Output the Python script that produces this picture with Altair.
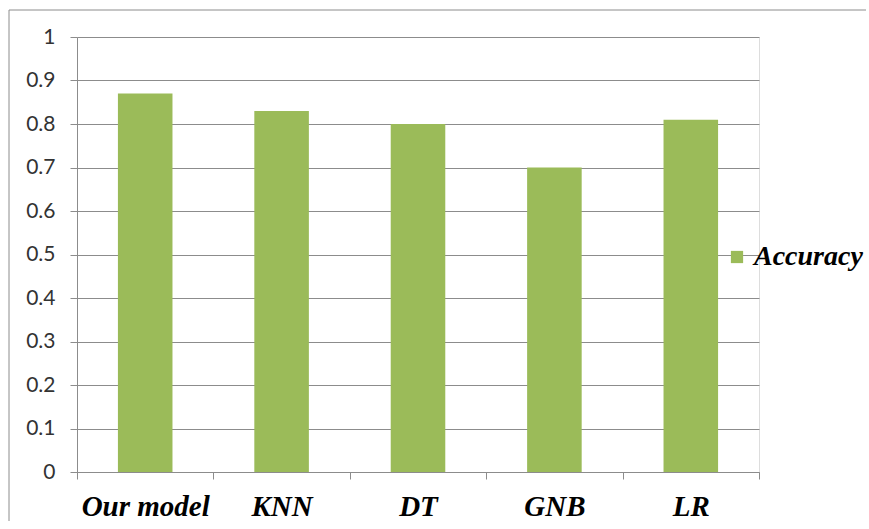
import altair as alt
import pandas as pd

# Accuracy of each classifier
models = ["Our model", "KNN", "DT", "GNB", "LR"]
accuracy = [0.87, 0.83, 0.80, 0.70, 0.81]
series_name = ["Accuracy"] * len(models)

df = pd.DataFrame({"model": models, "accuracy": accuracy, "series": series_name})

W, H = 682, 435
PAD = {"left": 77, "top": 37, "right": 108, "bottom": 50}
GRID = "#8c8c8c"
GREEN = "#9bbb59"

bars = alt.Chart(df).mark_bar(width=alt.RelativeBandSize(0.4), color=GREEN).encode(
    x=alt.X(
        "model:N",
        sort=models,
        scale=alt.Scale(paddingInner=0, paddingOuter=0),
        axis=alt.Axis(
            title=None,
            labelAngle=0,
            labelFont="Liberation Serif",
            labelFontSize=29,
            labelFontWeight="bold",
            labelFontStyle="italic",
            labelColor="#000000",
            labelPadding=13,
            tickBand="extent",
            tickSize=7,
            tickColor=GRID,
            domainColor=GRID,
            grid=False,
        ),
    ),
    y=alt.Y(
        "accuracy:Q",
        scale=alt.Scale(domain=[0, 1], nice=False),
        axis=alt.Axis(
            title=None,
            values=[i / 10 for i in range(11)],
            format="~g",
            labelFont="Lato",
            labelFontSize=21,
            labelColor="#333333",
            labelPadding=15,
            tickSize=7,
            tickColor=GRID,
            domainColor=GRID,
            gridColor=GRID,
            gridWidth=1,
        ),
    ),
    color=alt.Color(
        "series:N",
        scale=alt.Scale(range=[GREEN]),
        legend=alt.Legend(
            title=None,
            orient="none",
            legendX=646,
            legendY=206,
            symbolType="square",
            symbolSize=150,
            symbolStrokeWidth=0,
            labelFont="Liberation Serif",
            labelFontSize=28,
            labelFontWeight="bold",
            labelFontStyle="italic",
            labelColor="#000000",
            labelOffset=3,
        ),
    ),
)

# outer chart frame: left and top edges drawn once each as a single path
one_row = alt.Data(values=[{"frame": 1}])
frame_left = alt.Chart(one_row).mark_rule(color="#8c8c8c", strokeWidth=1).encode(
    x=alt.value(-68), y=alt.value(-27), y2=alt.value(H + PAD["bottom"] - 1)
)
frame_top = alt.Chart(one_row).mark_rule(color="#8c8c8c", strokeWidth=1).encode(
    x=alt.value(-68), x2=alt.value(W + PAD["right"] - 1), y=alt.value(-27), y2=alt.value(-27)
)

chart = (
    alt.layer(frame_left, frame_top, bars)
    .properties(width=W, height=H, padding=PAD, autosize=alt.AutoSizeParams(type="none"))
    .configure_view(stroke=None)
    .configure(background="white")
)

chart.save("out.html", embed_options={"renderer": "svg", "actions": False})
